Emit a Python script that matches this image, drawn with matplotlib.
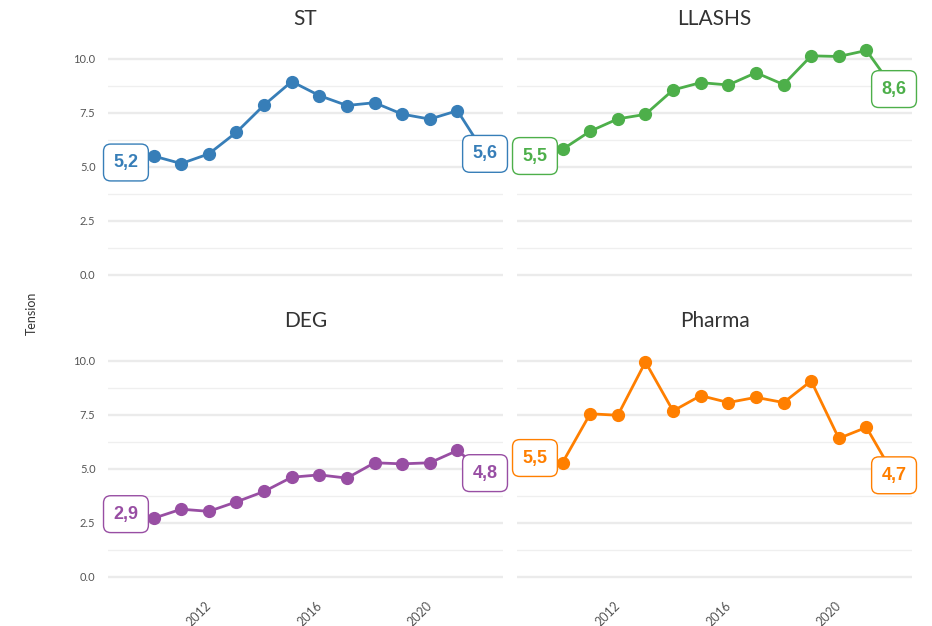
import matplotlib.pyplot as plt
import matplotlib.transforms as mtransforms
from matplotlib.ticker import MultipleLocator

years = list(range(2009, 2023))

st = [5.2, 5.50, 5.15, 5.60, 6.60, 7.86, 8.95, 8.30, 7.84, 7.97, 7.44, 7.21, 7.60, 5.6]
llashs = [5.5, 5.81, 6.65, 7.22, 7.43, 8.56, 8.90, 8.79, 9.36, 8.81, 10.14, 10.11, 10.39, 8.6]
deg = [2.9, 2.71, 3.13, 3.03, 3.47, 3.95, 4.61, 4.72, 4.57, 5.28, 5.23, 5.28, 5.85, 4.8]
pharma = [5.5, 5.29, 7.55, 7.48, 9.95, 7.68, 8.39, 8.07, 8.31, 8.07, 9.07, 6.41, 6.92, 4.7]

panels = ['ST', 'LLASHS', 'DEG', 'Pharma']
series = [st, llashs, deg, pharma]
colors = ['#377EB8', '#4DAF4A', '#984EA3', '#FF7F00']

plt.rcParams['font.family'] = ['Lato', 'DejaVu Sans']

fig = plt.figure(figsize=(9.32, 6.26), dpi=100)
W, H = 932, 626
boxes = [(108, 39), (517, 39), (108, 341), (517, 341)]

for i, (name, vals, col) in enumerate(zip(panels, series, colors)):
    x0, y0 = boxes[i]
    ax = fig.add_axes([x0 / W, 1 - (y0 + 247) / H, 395 / W, 247 / H])
    ax.set_xlim(2008.35, 2022.65)
    ax.set_ylim(-0.52, 10.92)
    for s in ax.spines.values():
        s.set_visible(False)
    ax.yaxis.set_major_locator(MultipleLocator(2.5))
    ax.yaxis.set_minor_locator(MultipleLocator(1.25))
    ax.set_xticks([2012, 2016, 2020])
    ax.grid(axis='y', which='major', color='#EBEBEB', lw=1.7)
    ax.grid(axis='y', which='minor', color='#EFEFEF', lw=0.9)
    ax.set_axisbelow(True)
    ax.tick_params(which='both', length=0)
    ax.tick_params(axis='y', pad=9, labelsize=8, labelcolor='#555555')
    ax.tick_params(axis='x', pad=8, labelsize=9, labelcolor='#555555')
    if i % 2 == 1:
        ax.set_yticklabels([])
    else:
        ax.set_yticklabels(['%.1f' % t for t in ax.get_yticks()])
    if i < 2:
        ax.set_xticklabels([])
    else:
        shift = mtransforms.ScaledTranslation(5 / 100, 0, fig.dpi_scale_trans)
        for lab in ax.get_xticklabels():
            lab.set_rotation(45)
            lab.set_ha('right')
            lab.set_va('top')
            lab.set_transform(lab.get_transform() + shift)
    ax.plot(years, vals, color=col, lw=2, marker='o', ms=8.5, zorder=3)
    ax.set_title(name, fontsize=15, color='#333333', pad=10)
    for j in (0, -1):
        ax.text(years[j], vals[j], ('%.1f' % vals[j]).replace('.', ','),
                family='Liberation Sans', fontweight='bold', fontsize=13,
                color=col, ha='center', va='center', zorder=5,
                bbox=dict(boxstyle='round,pad=0.55,rounding_size=0.4',
                          fc='white', ec=col, lw=1))

fig.text(32 / W, 1 - 313 / H, 'Tension', rotation=90, ha='center', va='center',
         fontsize=9, color='#333333')

fig.savefig('out.png', dpi=100)
